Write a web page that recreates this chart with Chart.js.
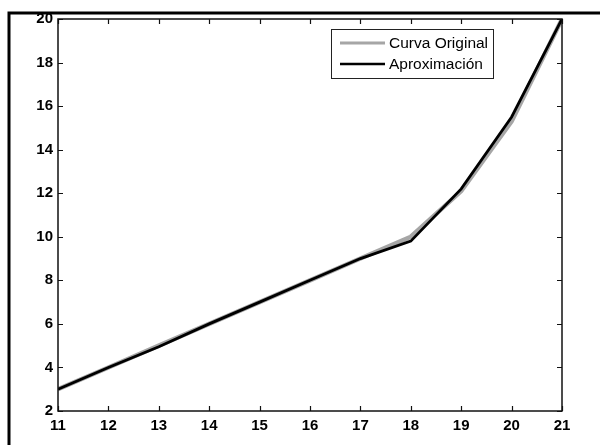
<!DOCTYPE html>
<html>
<head>
<meta charset="utf-8">
<script src="https://cdn.jsdelivr.net/npm/chart.js@4/dist/chart.umd.min.js"></script>
<style>
html,body{margin:0;padding:0;background:#fff;}
#wrap{width:600px;height:445px;position:relative;}
</style>
</head>
<body>
<div id="wrap"><canvas id="c" width="600" height="445"></canvas></div>
<script>
const xValues = [11, 12, 13, 14, 15, 16, 17, 18, 19, 20, 21];
const curvaOriginal = [3, 4, 5, 6, 7, 8, 9, 10, 12.1, 15.3, 20];
const aproximacion = [3, 4, 4.95, 6, 7, 8, 9, 9.8, 12.2, 15.5, 20];
const xTicks = [11, 12, 13, 14, 15, 16, 17, 18, 19, 20, 21];
const yTicks = [2, 4, 6, 8, 10, 12, 14, 16, 18, 20];
const seriesNames = ['Curva Original', 'Aproximación'];

const FONT = 'Liberation Sans, Arial, Helvetica, sans-serif';

const framePlugin = {
  id: 'frame',
  afterDatasetsDraw(chart) {
    const ctx = chart.ctx;
    const a = chart.chartArea;
    const xs = chart.scales.x, ys = chart.scales.y;
    ctx.save();
    ctx.strokeStyle = '#111';
    ctx.lineWidth = 1.5;
    ctx.strokeRect(a.left, a.top, a.right - a.left, a.bottom - a.top);
    ctx.lineWidth = 1.2;
    ctx.beginPath();
    xTicks.forEach(v => {
      const px = Math.round(xs.getPixelForValue(v)) + 0.5;
      ctx.moveTo(px, a.bottom); ctx.lineTo(px, a.bottom - 5);
      ctx.moveTo(px, a.top); ctx.lineTo(px, a.top + 5);
    });
    yTicks.forEach(v => {
      const py = Math.round(ys.getPixelForValue(v)) + 0.5;
      ctx.moveTo(a.left, py); ctx.lineTo(a.left + 5, py);
      ctx.moveTo(a.right, py); ctx.lineTo(a.right - 5, py);
    });
    ctx.stroke();
    // legend
    const lx = 331, ly = 29, lw = 162, lh = 49;
    ctx.fillStyle = '#fff';
    ctx.fillRect(lx, ly, lw, lh);
    ctx.strokeStyle = '#222';
    ctx.lineWidth = 1;
    ctx.strokeRect(lx + 0.5, ly + 0.5, lw, lh);
    const ds = chart.data.datasets;
    const rows = [43, 64];
    ds.forEach((d, i) => {
      ctx.strokeStyle = d.borderColor;
      ctx.lineWidth = i === 0 ? 3 : 2.5;
      ctx.beginPath();
      ctx.moveTo(340, rows[i]); ctx.lineTo(385, rows[i]);
      ctx.stroke();
      ctx.fillStyle = '#000';
      ctx.font = '15.5px ' + FONT;
      ctx.textBaseline = 'middle';
      ctx.textAlign = 'left';
      ctx.fillText(d.label, 389, rows[i] + 1);
    });
    // outer photo border (left & top)
    ctx.strokeStyle = '#000';
    ctx.lineWidth = 3;
    ctx.beginPath();
    ctx.moveTo(9, 445); ctx.lineTo(9, 13); ctx.lineTo(600, 13);
    ctx.stroke();
    ctx.restore();
  }
};

new Chart(document.getElementById('c'), {
  type: 'line',
  data: {
    datasets: [
      {
        label: seriesNames[0],
        data: xValues.map((x, i) => ({x: x, y: curvaOriginal[i]})),
        borderColor: '#a6a6a6',
        borderWidth: 4.5,
        pointRadius: 0,
        tension: 0,
        order: 2
      },
      {
        label: seriesNames[1],
        data: xValues.map((x, i) => ({x: x, y: aproximacion[i]})),
        borderColor: '#000',
        borderWidth: 2.8,
        pointRadius: 0,
        tension: 0,
        order: 1
      }
    ]
  },
  options: {
    responsive: false,
    animation: false,
    layout: {padding: {top: 19, right: 38, left: 0, bottom: 0}},
    plugins: {legend: {display: false}, tooltip: {enabled: false}},
    scales: {
      x: {
        type: 'linear', min: 11, max: 21,
        afterBuildTicks: s => { s.ticks = xTicks.map(v => ({value: v})); },
        afterFit: s => { s.height = 34; },
        grid: {display: false, drawTicks: false},
        border: {display: false},
        ticks: {color: '#000', font: {family: FONT, size: 15, weight: 'bold'}, padding: 6, maxRotation: 0}
      },
      y: {
        type: 'linear', min: 2, max: 20,
        afterBuildTicks: s => { s.ticks = yTicks.map(v => ({value: v})); },
        afterFit: s => { s.width = 58; },
        grid: {display: false, drawTicks: false},
        border: {display: false},
        ticks: {color: '#000', font: {family: FONT, size: 15, weight: 'bold'}, padding: 5}
      }
    }
  },
  plugins: [framePlugin]
});
</script>
</body>
</html>
